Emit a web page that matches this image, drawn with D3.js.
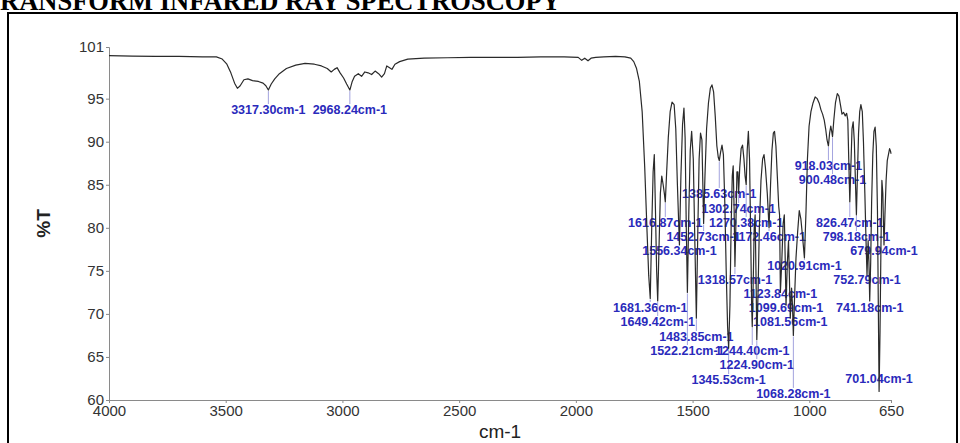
<!DOCTYPE html>
<html><head><meta charset="utf-8">
<script src="https://cdn.jsdelivr.net/npm/d3@7"></script>
<style>
html,body{margin:0;padding:0;background:#fff;}
svg{display:block;}
</style></head><body>
<svg id="chart" width="960" height="443"></svg>
<script>
// FTIR spectrum: wavenumber (cm-1) against transmittance (%T)
const wavenumber = [
  4000,3900,3800,3700,3600,3540,3515,3495,3478,3462,3450,3438,3422,3405,3385,3360,3340,3328,3317.30,3305,
  3290,3270,3240,3200,3160,3120,3090,3065,3048,3035,3023,3010,2995,2982,2968.24,2958,2948,2932,2918,2904,
  2890,2875,2860,2845,2832,2820,2810,2798,2788,2775,2755,2720,2650,2550,2450,2350,2250,2150,2050,1990,
  1975,1962,1948,1935,1915,1880,1830,1790,1765,1752,1740,1728,1716,1705,1695,1688,1681.36,1675,1669,1664,
  1659,1654,1649.42,1644,1638,1632,1626,1621,1616.87,1611,1604,1596,1588,1579,1572,1565,1556.34,1550,1543,1537,
  1532,1527,1522.21,1516,1510,1504,1497,1490,1483.85,1478,1472,1466,1460,1456,1452.73,1447,1440,1432,1424,1417,
  1410,1403,1396,1390,1385.63,1380,1374,1368,1362,1356,1350,1345.53,1340,1335,1330,1326,1322,1318.57,1314,1310,
  1306,1302.74,1298,1292,1286,1280,1275,1270.38,1266,1261,1256,1251,1247,1244.40,1240,1236,1232,1228,1224.90,1220,
  1214,1207,1200,1194,1188,1180,1172.46,1166,1160,1154,1149,1143,1137,1131,1127.38,1123.84,1118,1112,1107,1103,
  1099.69,1094,1089,1085,1081.56,1076,1072,1068.28,1063,1057,1050,1043,1036,1029,1020.91,1014,1008,1001,993,984,
  975,966,958,950,943,936,930,924,918.03,913,908,904,900.48,895,888,880,873,866,860,853,
  846,840,835,831,826.47,822,817,812,807,802,798.18,794,789,784,779,773,768,762,757,752.79,
  748,744.5,741.18,737,733,728,723,718,713,708,704,701.04,697,693,689,685,682,679.94,676,671,
  666,661,656,652,650
];
const transmittance = [
  100.0,99.95,99.9,99.9,99.85,99.85,99.6,99.0,98.0,96.8,96.2,96.5,97.2,97.3,97.1,97.0,96.8,96.5,96.0,96.7,
  97.3,97.9,98.5,98.9,99.1,99.0,98.8,98.5,98.1,98.4,98.6,98.0,97.4,96.7,96.0,97.0,97.6,97.9,97.6,98.1,
  98.0,97.8,98.2,97.9,97.5,97.9,98.8,98.6,98.4,99.0,99.3,99.6,99.7,99.75,99.8,99.8,99.8,99.85,99.85,99.8,
  99.45,99.7,99.4,99.7,99.8,99.85,99.9,99.85,99.7,99.3,98.5,97.0,93.5,87.0,79.5,74.5,71.8,80.0,86.5,88.5,
  82.0,75.0,71.5,77.5,84.0,86.0,85.0,84.0,83.0,86.5,90.5,93.5,94.6,94.3,91.5,85.0,78.0,86.0,92.0,93.9,
  90.5,80.0,72.5,82.0,89.0,91.2,88.0,78.0,69.5,79.0,88.0,91.0,90.2,85.0,80.5,86.0,91.5,94.5,96.2,96.6,
  95.8,93.0,89.5,88.2,87.8,88.8,89.6,88.5,83.0,75.0,68.5,66.0,71.0,80.0,86.0,87.2,82.0,75.5,81.0,86.5,
  86.5,84.0,87.0,89.2,89.6,88.0,86.0,85.0,89.0,91.2,88.0,79.0,71.0,68.5,74.0,80.0,81.5,74.0,67.0,72.0,
  80.0,85.5,88.0,88.5,87.0,84.0,80.0,85.0,89.0,91.0,91.2,89.5,86.0,82.5,81.5,72.5,76.0,80.5,81.5,76.0,
  71.0,76.0,78.5,74.0,69.5,73.0,71.0,67.5,72.0,76.5,79.5,82.0,81.0,79.0,76.5,82.0,88.0,91.8,93.5,94.5,
  95.2,95.0,94.5,93.7,93.2,92.5,91.5,90.2,89.5,91.0,91.8,91.2,90.6,92.5,94.5,95.6,95.3,94.2,93.2,93.4,
  93.0,93.3,92.5,88.0,83.0,87.0,91.5,92.3,90.0,85.0,81.5,86.0,91.0,93.5,94.3,93.5,90.0,84.0,78.5,74.5,
  78.5,76.0,71.5,76.0,83.0,88.5,91.2,91.7,89.5,82.0,70.0,61.0,68.0,78.0,85.5,84.0,80.0,78.0,81.5,85.5,
  87.8,88.5,89.2,88.9,88.6
];

// Picked peaks and the %T level at which each peak label is set
const peakWavenumbers = [
  3317.30,2968.24,1681.36,1649.42,1616.87,1556.34,1522.21,1483.85,1452.73,1385.63,
  1345.53,1318.57,1302.74,1270.38,1244.40,1224.90,1172.46,1123.84,1099.69,1081.56,
  1068.28,1020.91,918.03,900.48,826.47,798.18,752.79,741.18,701.04,679.94
];
const peakLabelLevels = [
  93.68,93.68,70.69,69.06,80.56,77.30,65.69,67.32,78.93,83.93,
  62.32,73.94,82.18,80.56,65.69,64.07,78.93,72.31,70.69,69.06,
  60.70,75.56,87.18,85.55,80.56,78.93,73.94,70.69,62.50,77.30
];

const yTickValues = [60,65,70,75,80,85,90,95,101];
const xTickValues = [4000,3500,3000,2500,2000,1500,1000,650];

const svg = d3.select("#chart");
const sans = "'Liberation Sans', Arial, sans-serif";

const x = d3.scaleLinear().domain([4000, 650]).range([109, 891]);
const y = d3.scaleLinear().domain([60, 101]).range([400, 47]);

// Heading, clipped at the top of the page
svg.append("text")
  .attr("x", 0).attr("y", 10)
  .attr("font-family", "'Liberation Serif', 'Times New Roman', serif")
  .attr("font-weight", "bold").attr("font-size", 26.5)
  .attr("fill", "#000")
  .text("RANSFORM INFARED RAY SPECTROSCOPY");

// Frame around the figure
svg.append("path")
  .attr("d", "M8,443 V13 H957 V443")
  .attr("fill", "none").attr("stroke", "#000").attr("stroke-width", 2);

// Axes
const yAxis = svg.append("g")
  .attr("transform", `translate(${x(4000)},0)`)
  .call(d3.axisLeft(y).tickValues(yTickValues).tickSize(3).tickPadding(2).tickFormat(d3.format("d")));
const xAxis = svg.append("g")
  .attr("transform", `translate(0,${y(60)})`)
  .call(d3.axisBottom(x).tickValues(xTickValues).tickSize(3).tickPadding(2).tickFormat(d3.format("d")));

[yAxis, xAxis].forEach(g => {
  g.select(".domain").attr("stroke", "#8a8a8a").attr("stroke-width", 1);
  g.selectAll(".tick line").attr("stroke", "#8a8a8a");
  g.selectAll(".tick text").attr("font-family", sans).attr("font-size", 15).attr("fill", "#333");
});

svg.append("text")
  .attr("x", (x(4000) + x(650)) / 2).attr("y", 438)
  .attr("text-anchor", "middle")
  .attr("font-family", sans).attr("font-size", 19).attr("fill", "#222")
  .text("cm-1");

svg.append("text")
  .attr("transform", `translate(50,${(y(60) + y(101)) / 2}) rotate(-90)`)
  .attr("text-anchor", "middle")
  .attr("font-family", sans).attr("font-size", 19).attr("font-weight", "bold").attr("fill", "#222")
  .text("%T");

// Peak labels with leader lines
const peakT = peakWavenumbers.map(w => transmittance[wavenumber.indexOf(w)]);
const labels = svg.append("g");
peakWavenumbers.forEach((w, i) => {
  const px = x(w), py = y(peakT[i]), ly = y(peakLabelLevels[i]);
  if (ly - 6 > py + 1) {
    labels.append("line")
      .attr("x1", px).attr("y1", py + 1).attr("x2", px).attr("y2", ly - 6)
      .attr("stroke", "#8c8cd6").attr("stroke-width", 0.8);
  }
  labels.append("text")
    .attr("x", px).attr("y", ly)
    .attr("dy", "0.35em").attr("text-anchor", "middle")
    .attr("font-family", sans).attr("font-size", 12.5).attr("font-weight", "bold")
    .attr("fill", "#2a2abb")
    .text(w.toFixed(2) + "cm-1");
});

// Spectrum trace
const line = d3.line()
  .x((d, i) => x(wavenumber[i]))
  .y((d, i) => y(transmittance[i]));
svg.append("path")
  .datum(transmittance)
  .attr("d", line)
  .attr("fill", "none").attr("stroke", "#2a2a2a").attr("stroke-width", 1.2)
  .attr("stroke-linejoin", "round");
</script>
</body></html>
